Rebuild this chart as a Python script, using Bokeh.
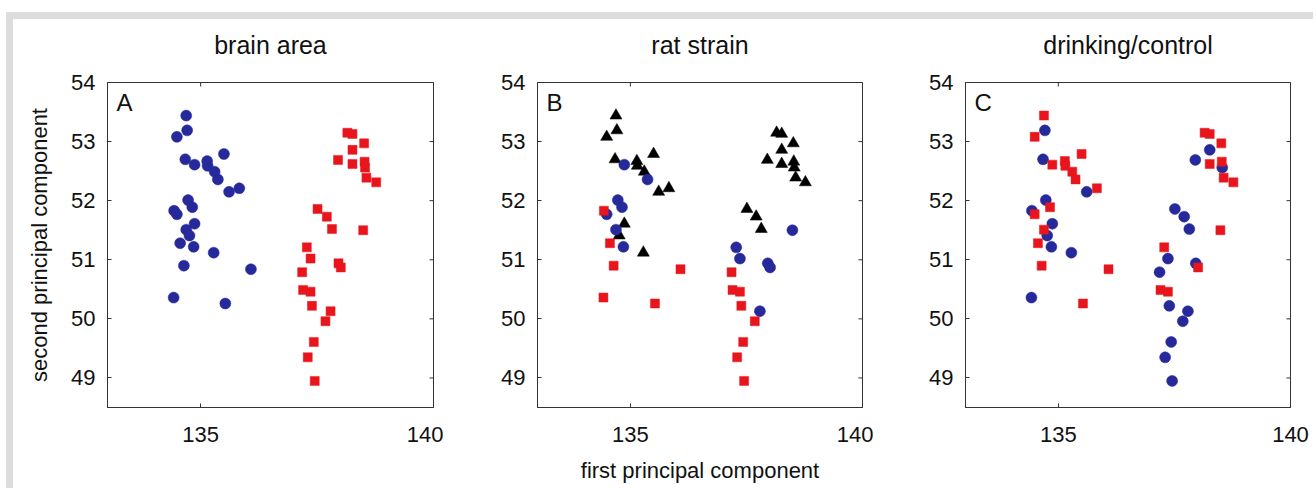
import math
from bokeh.plotting import figure
from bokeh.models import FixedTicker, Label, Range1d, ColumnDataSource, LinearAxis
from bokeh.layouts import row
from bokeh.embed import file_html
from bokeh.resources import INLINE

# ---- data ----
pc1 = [134.69, 134.71, 134.49, 134.67, 134.87, 135.14, 135.15, 135.30, 135.37, 135.50,
       135.61, 135.83, 134.73, 134.82, 134.43, 134.49, 134.87, 134.69, 134.76, 134.56,
       134.85, 135.28, 134.64, 136.08, 134.42, 135.53,
       138.15, 138.26, 138.51, 138.26, 137.95, 138.26, 138.52, 138.53, 138.56, 138.77,
       137.51, 137.71, 137.82, 138.49, 137.28, 137.36, 137.96, 138.01, 137.18, 137.20,
       137.36, 137.39, 137.79, 137.68, 137.43, 137.30, 137.45]
pc2 = [53.44, 53.19, 53.08, 52.70, 52.61, 52.67, 52.59, 52.49, 52.36, 52.79,
       52.15, 52.21, 52.01, 51.89, 51.83, 51.77, 51.61, 51.51, 51.41, 51.28,
       51.22, 51.12, 50.90, 50.84, 50.36, 50.26,
       53.15, 53.13, 52.97, 52.86, 52.69, 52.62, 52.66, 52.56, 52.39, 52.31,
       51.86, 51.73, 51.52, 51.50, 51.21, 51.02, 50.94, 50.87, 50.79, 50.49,
       50.46, 50.22, 50.13, 49.96, 49.61, 49.35, 48.95]

# brain area: 1 = blue circles, 2 = red squares
brain_area = ["1"] * 26 + ["2"] * 27
# rat strain: T = black triangles, B = blue circles, R = red squares
rat_strain = ["T", "T", "T", "T", "B", "T", "T", "T", "B", "T",
              "T", "T", "B", "B", "R", "B", "T", "B", "T", "R",
              "B", "T", "R", "R", "R", "R",
              "T", "T", "T", "T", "T", "T", "T", "T", "T", "T",
              "T", "T", "T", "B", "B", "B", "B", "B", "R", "R",
              "R", "R", "B", "R", "R", "R", "R"]
# drinking/control: R = red squares, B = blue circles
drinking = ["R", "B", "R", "B", "R", "R", "R", "R", "R", "R",
            "B", "R", "B", "R", "B", "R", "B", "R", "B", "R",
            "B", "B", "R", "R", "B", "R",
            "R", "R", "R", "B", "B", "R", "R", "B", "R", "R",
            "B", "B", "B", "R", "R", "B", "B", "R", "B", "R",
            "R", "B", "B", "B", "B", "B", "B"]

titles = ["brain area", "rat strain", "drinking/control"]
letters = ["A", "B", "C"]
x_ticks = [135, 140]
y_ticks = [49, 50, 51, 52, 53, 54]
x_lim = [133, 140]
y_lim = [48.5, 54]
x_label = "first principal component"
y_label = "second principal component"

BLUE = "#25299a"
RED = "#e8161c"
BLACK = "#000000"
styles = {
    "1": ("circle", BLUE, 11), "2": ("square", RED, 9),
    "T": ("triangle", BLACK, 12), "B": ("circle", BLUE, 11), "R": ("square", RED, 9),
}

FONT = "Liberation Sans"
AX = "#333333"
TXT = "#111111"


def style_axis(ax):
    ax.axis_line_color = AX
    ax.major_tick_line_color = AX
    ax.major_tick_in = 4
    ax.major_tick_out = 0
    ax.minor_tick_line_color = None
    ax.major_label_text_font = FONT
    ax.major_label_text_color = TXT
    ax.major_label_text_font_size = "22px"
    ax.axis_label_text_font = FONT
    ax.axis_label_text_font_size = "22px"
    ax.axis_label_text_font_style = "normal"
    ax.axis_label_text_color = TXT


def panel(idx, cats, order, width, left, right):
    p = figure(width=width, height=469, output_backend="svg", toolbar_location=None,
               x_range=Range1d(x_lim[0], x_lim[1]), y_range=Range1d(y_lim[0], y_lim[1]),
               min_border_left=left, min_border_right=right,
               min_border_top=63, min_border_bottom=81)
    p.grid.visible = False
    p.outline_line_color = AX
    p.background_fill_color = "white"
    p.border_fill_color = "white"

    xax = p.below[0]
    yax = p.left[0]
    xax.ticker = FixedTicker(ticks=x_ticks)
    yax.ticker = FixedTicker(ticks=y_ticks)
    style_axis(xax)
    style_axis(yax)
    xax.major_label_standoff = 19
    yax.major_label_standoff = 12
    if idx == 0:
        yax.axis_label = y_label
        yax.axis_label_standoff = 16
    if idx == 1:
        xax.axis_label = x_label
        xax.axis_label_standoff = 13

    # panel title: the label of a tick-less axis above the frame
    top = LinearAxis(ticker=FixedTicker(ticks=[]), axis_label=titles[idx])
    top.axis_line_color = None
    top.major_tick_line_color = None
    top.minor_tick_line_color = None
    top.major_tick_in = 0
    top.major_tick_out = 0
    top.major_label_standoff = 0
    top.axis_label_standoff = 24
    top.axis_label_text_font = FONT
    top.axis_label_text_font_size = "25px"
    top.axis_label_text_font_style = "normal"
    top.axis_label_text_color = TXT
    p.add_layout(top, "above")

    # mirrored inner ticks on top and right edges (half of each dash is clipped by the frame)
    p.scatter(x_ticks, [y_lim[1]] * len(x_ticks), marker="dash", size=8, angle=math.pi / 2,
              line_color=AX, line_width=1)
    p.scatter([x_lim[1]] * len(y_ticks), y_ticks, marker="dash", size=8,
              line_color=AX, line_width=1)

    for c in order:
        xs = [x for x, k in zip(pc1, cats) if k == c]
        ys = [y for y, k in zip(pc2, cats) if k == c]
        marker, color, size = styles[c]
        src = ColumnDataSource(dict(x=xs, y=ys))
        p.scatter("x", "y", source=src, marker=marker, size=size,
                  fill_color=color, line_color=color, line_width=0.5)

    p.add_layout(Label(x=x_lim[0], y=y_lim[1], x_offset=9, y_offset=-6,
                       text=letters[idx], text_baseline="top", text_align="left",
                       text_font=FONT, text_font_size="24px", text_color=TXT))
    return p


p1 = panel(0, brain_area, ["1", "2"], 430, 94, 10)
p2 = panel(1, rat_strain, ["T", "B", "R"], 430, 94, 11)
p3 = panel(2, drinking, ["B", "R"], 440, 92, 23)

layout = row(p1, p2, p3, styles={
    "margin-top": "12px", "margin-left": "6px",
    "border-top": "7px solid #dcdcdc", "border-left": "7px solid #dcdcdc",
    "background-color": "white",
})

open("out.html", "w").write(file_html(layout, INLINE))
